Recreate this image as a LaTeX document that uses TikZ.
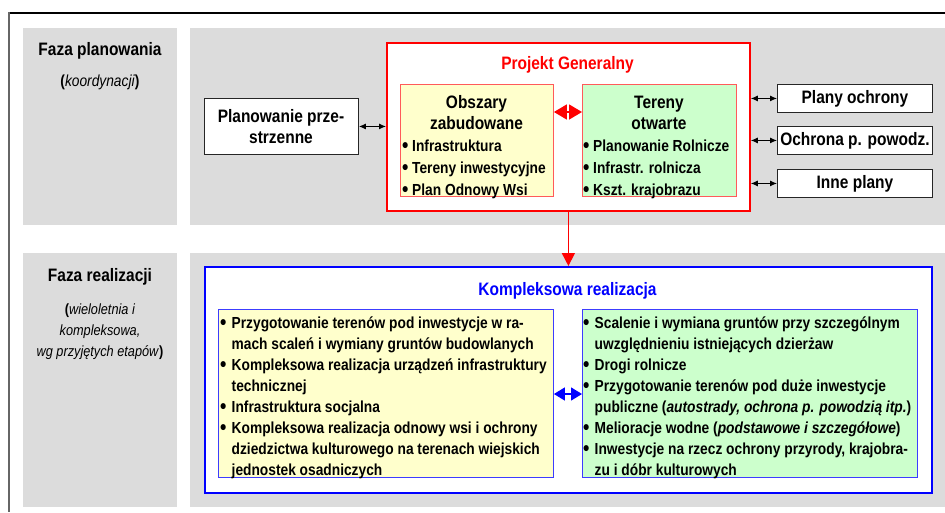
\documentclass[tikz,border=0pt]{standalone}
\usepackage{fontspec}
\setmainfont[FakeStretch=0.86]{Liberation Sans}
\usetikzlibrary{arrows.meta,calc}
\definecolor{panelgray}{RGB}{220,220,220}
\definecolor{lyellow}{RGB}{255,255,204}
\definecolor{lgreen}{RGB}{204,255,204}
\definecolor{pred}{RGB}{255,0,0}
\definecolor{lred}{RGB}{255,90,90}
\definecolor{pblue}{RGB}{0,0,255}
\definecolor{lblue}{RGB}{60,60,255}
\newcommand\bigdot{{\fontsize{21}{21}\selectfont\raisebox{-1.6pt}{•}}}
\newcommand\bulA{\makebox[10pt][l]{\bigdot}}
\newcommand\bulB{\makebox[11.5pt][l]{\bigdot}}
\tikzset{
  box/.style={rectangle, inner sep=0pt, anchor=north west},
  panel/.style={box, fill=panelgray},
  wbox/.style={box, fill=white, draw=black!85, line width=0.9pt},
  redbox/.style={box, fill=white, draw=pred, line width=1.8pt},
  bluebox/.style={box, fill=white, draw=pblue, line width=1.8pt},
  ubox/.style={box, draw=lred, line width=0.9pt},
  lbox/.style={box, draw=lblue, line width=0.9pt},
  txt/.style={inner sep=0pt, anchor=base},
  ltxt/.style={inner sep=0pt, anchor=base west},
  sarrow/.style={{Latex[length=7pt,width=6pt]}-{Latex[length=7pt,width=6pt]}, line width=1pt, black},
  rarrow/.style={{Triangle[length=13pt,width=15pt]}-{Triangle[length=13pt,width=15pt]}, pred, line width=1.5pt},
  barrow/.style={{Triangle[length=11pt,width=13pt]}-{Triangle[length=11pt,width=13pt]}, pblue, line width=1.5pt},
  darrow/.style={-{Triangle[length=13pt,width=13pt]}, pred, line width=1.6pt},
}
\begin{document}
\begin{tikzpicture}[x=1pt,y=-1pt]
\useasboundingbox (0,0) rectangle (945,512);
% outer frame
\draw[line width=1.2pt, black] (9,13) -- (945,13);
\draw[line width=2pt, black!60] (9,12.4) -- (9,512);
% panels
\node[panel, minimum width=154pt, minimum height=197pt] (gpl) at (23,28) {};
\node[panel, minimum width=755pt, minimum height=197pt] (gpr) at (190,28) {};
\node[panel, minimum width=154pt, minimum height=254pt] (grl) at (23,253) {};
\node[panel, minimum width=755pt, minimum height=254pt] (grr) at (190,253) {};
% left headings
\node[txt] (fp) at (100,55) {\fontsize{18}{21}\selectfont\bfseries Faza planowania};
\node[txt] (fpk) at (100,86) {\fontsize{16}{21}\selectfont\textbf{(}\textit{koordynacji}\textbf{)}};
\node[txt] (fr) at (100,281) {\fontsize{18}{21}\selectfont\bfseries Faza realizacji};
\node[txt] (frk) at (100,314) {\fontsize{14.8}{21}\selectfont\begin{tabular}[t]{@{}c@{}}\textbf{(}\textit{wieloletnia i}\\ \textit{kompleksowa,}\\ \textit{wg przyjętych etapów}\textbf{)}\end{tabular}};
% planning boxes
\node[wbox, minimum width=154pt, minimum height=56pt] (plan) at (204,98) {};
\node[txt] (plant) at (281,122) {\fontsize{18}{21.5}\selectfont\bfseries\begin{tabular}[t]{@{}c@{}}Planowanie prze-\\strzenne\end{tabular}};
\node[redbox, minimum width=363pt, minimum height=168pt] (pg) at (386,42) {};
\node[txt, text=pred] (pgt) at (567.5,69) {\fontsize{18}{21}\selectfont\bfseries Projekt Generalny};
\node[ubox, fill=lyellow, minimum width=153pt, minimum height=112pt] (obs) at (400,84) {};
\node[ubox, fill=lgreen, minimum width=154pt, minimum height=112pt] (ter) at (582,84) {};
\node[txt] (obst) at (476.5,108) {\fontsize{18}{21}\selectfont\bfseries\begin{tabular}[t]{@{}c@{}}Obszary\\zabudowane\end{tabular}};
\node[txt] (tert) at (659,108) {\fontsize{18}{21}\selectfont\bfseries\begin{tabular}[t]{@{}c@{}}Tereny\\otwarte\end{tabular}};
\node[ltxt] (obsl) at (402,151) {\fontsize{16}{22}\selectfont\bfseries\begin{tabular}[t]{@{}l@{}l@{}}\bulA & Infrastruktura\\ \bulA & Tereny inwestycyjne\\ \bulA & Plan Odnowy Wsi\end{tabular}};
\node[ltxt] (terl) at (583,151) {\fontsize{16}{22}\selectfont\bfseries\begin{tabular}[t]{@{}l@{}l@{}}\bulA & Planowanie Rolnicze\\ \bulA & Infrastr. rolnicza\\ \bulA & Kszt. krajobrazu\end{tabular}};
\node[wbox, minimum width=155pt, minimum height=28pt, font=\fontsize{18}{21}\selectfont\bfseries] (po) at (777,84) {Plany ochrony};
\node[wbox, minimum width=155pt, minimum height=28pt, font=\fontsize{18}{21}\selectfont\bfseries] (op) at (777,126) {Ochrona p. powodz.};
\node[wbox, minimum width=155pt, minimum height=28pt, font=\fontsize{18}{21}\selectfont\bfseries] (ip) at (777,169) {Inne plany};
% realization
\node[bluebox, minimum width=727pt, minimum height=226pt] (kr) at (204,266) {};
\node[txt, text=pblue] (krt) at (567.5,295) {\fontsize{18}{21}\selectfont\bfseries Kompleksowa realizacja};
\node[lbox, fill=lyellow, minimum width=335pt, minimum height=168pt] (ky) at (218,309) {};
\node[lbox, fill=lgreen, minimum width=335pt, minimum height=168pt] (kg) at (582,309) {};
\node[ltxt] (kyl) at (220,328) {\fontsize{16}{21}\selectfont\bfseries\begin{tabular}[t]{@{}l@{}l@{}}
\bulB & Przygotowanie terenów pod inwestycje w ra-\\
 & mach scaleń i wymiany gruntów budowlanych\\
\bulB & Kompleksowa realizacja urządzeń infrastruktury\\
 & technicznej\\
\bulB & Infrastruktura socjalna\\
\bulB & Kompleksowa realizacja odnowy wsi i ochrony\\
 & dziedzictwa kulturowego na terenach wiejskich\\
 & jednostek osadniczych\end{tabular}};
\node[ltxt] (kgl) at (583,328) {\fontsize{16}{21}\selectfont\bfseries\begin{tabular}[t]{@{}l@{}l@{}}
\bulB & Scalenie i wymiana gruntów przy szczególnym\\
 & uwzględnieniu istniejących dzierżaw\\
\bulB & Drogi rolnicze\\
\bulB & Przygotowanie terenów pod duże inwestycje\\
 & publiczne (\textit{autostrady, ochrona p. powodzią itp.})\\
\bulB & Melioracje wodne (\textit{podstawowe i szczegółowe})\\
\bulB & Inwestycje na rzecz ochrony przyrody, krajobra-\\
 & zu i dóbr kulturowych\end{tabular}};
% connectors
\draw[sarrow] (plan.east) -- (plan.east -| pg.west);
\draw[sarrow] (po.west -| pg.east) -- (po.west);
\draw[sarrow] (op.west -| pg.east) -- (op.west);
\draw[sarrow] (ip.west -| pg.east) -- (ip.west);
\draw[rarrow] ($(obs.north east)+(0,28)$) -- ($(ter.north west)+(0,28)$);
\draw[barrow] ($(ky.north east)+(0,85)$) -- ($(kg.north west)+(0,85)$);
\draw[darrow] (pg.south) -- (kr.north);
\end{tikzpicture}
\end{document}
